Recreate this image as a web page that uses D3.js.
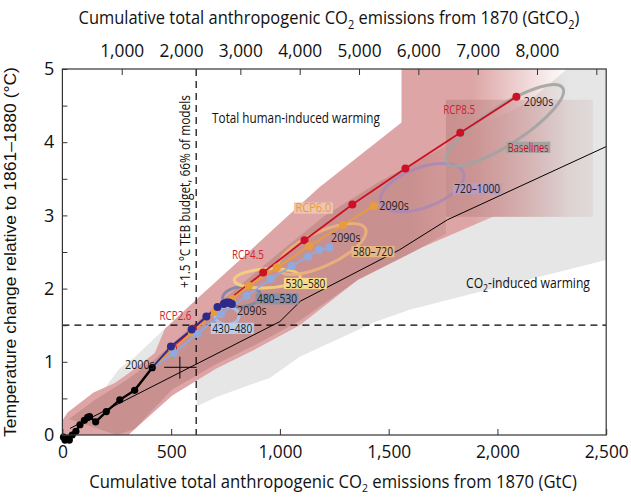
<!DOCTYPE html>
<html><head><meta charset="utf-8">
<script src="https://cdn.jsdelivr.net/npm/d3@7"></script>
<style>
html,body{margin:0;padding:0;background:#fff;}
svg{display:block;font-family:"Open Sans","Noto Sans",sans-serif;}
</style></head>
<body><svg id="c" width="631" height="497"></svg>
<script>
// ---------------- data ----------------
const xTicksGtC = [0,500,1000,1500,2000,2500];
const xLabelsGtCO2 = [1000,2000,3000,4000,5000,6000,7000,8000];
const xTickMarksGtCO2 = [1000,3000,4000,5000,6000,7000,8000,9000];
const yTicks = [0,0.5,1,1.5,2,2.5,3,3.5,4,4.5,5];
const budget15 = 615;          // GtC, +1.5 °C TEB budget
const level15 = 1.5;           // °C

// CO2-induced warming range (grey)
const co2RangeUpper = [[0,0],[100,0.4],[200,0.66],[260,0.9],[330,1.06],[402,1.26],[470,1.45],[600,1.75],[1000,2.7],[1500,3.6],[2136,4.54],[2320,5.0],[2500,5.0]];
const co2RangeLower = [[2500,2.39],[1856,1.91],[1596,1.71],[1443,1.55],[1091,1.07],[953,0.78],[708,0.52],[617,0.39],[617,0.8],[505,0.6],[303,0.05],[290,0]];
// Total human-induced warming range (pink)
const totRangeUpper = [[0,0.2],[25,0.31],[143,0.58],[241,0.71],[303,0.84],[425,1.12],[471,1.45],[623,1.87],[775,2.28],[977,2.83],[1180,3.38],[1559,4.27],[1559,5.0],[2500,5.0]];
const totRangeLower = [[2500,2.98],[1979,2.98],[1652,2.56],[1359,2.12],[1091,1.5],[893,1.18],[708,0.91],[505,0.54],[303,0],[0,0]];
const totInnerUpper = [[30,0.22],[150,0.48],[300,0.76],[420,1.02],[600,1.5],[800,2.0],[1000,2.5],[1200,2.98],[1450,3.45],[1763,3.95]];
const totInnerLower = [[1763,2.75],[1652,2.56],[1359,2.12],[1091,1.56],[893,1.24],[708,0.97],[505,0.62],[330,0.08],[250,0]];
// baseline range box
const baseBox = {x0:1763, x1:2439, y0:2.98, y1:4.58};

// central CO2-only line
const co2Line = [[35,0.09],[1000,1.55],[1095,1.83],[1550,2.53],[1770,2.94],[2500,3.94]];

// historical decades (GtC, °C)
const hist = [[5,-0.03],[12,-0.07],[22,-0.05],[32,-0.07],[45,0.0],[62,0.05],[81,0.14],[101,0.2],[116,0.24],[125,0.25],[153,0.18],[202,0.32],[264,0.48],[332,0.61],[413,0.92]];
// RCP decades 2000s..2090s
const rcp85 = [[413,0.92],[508,1.19],[600,1.45],[745,1.8],[923,2.22],[1113,2.66],[1333,3.15],[1577,3.64],[1829,4.13],[2087,4.62]];
const rcp60 = [[413,0.92],[505,1.17],[595,1.4],[700,1.68],[780,1.86],[857,2.04],[987,2.29],[1134,2.58],[1290,2.87],[1431,3.13]];
const rcp45 = [[413,0.92],[513,1.12],[619,1.38],[729,1.65],[847,1.9],[957,2.13],[1054,2.31],[1130,2.44],[1181,2.53],[1228,2.56]];
const rcp26 = [[413,0.92],[499,1.21],[594,1.44],[662,1.62],[713,1.75],[742,1.79],[755,1.81],[765,1.81],[772,1.8],[779,1.79]];

// observational estimate cross
const obs = {x:540, y:0.925, x0:468, x1:617, y0:0.77, y1:1.07};

// concentration-category ellipses (centre GtC/°C, semi-axes GtC/°C, tilt deg)
const ellLabels = ["430–480","480–530","530–580","580–720","720–1000","Baselines"];
const ellCx = [757,824,942,1193,1654,2034];
const ellCy = [1.63,1.89,2.14,2.54,3.38,4.23];
const ellRx = [55,87,152,221,202,317];
const ellRy = [0.123,0.137,0.13,0.232,0.273,0.26];
const ellRot = [0,-5,-3,-25,-20,-33];
const ellLabelPos = [[781,1.457],[987,1.86],[1117,2.07],[1428,2.505],[1907,3.365],[2142,3.93]];

const rcpNames = ["RCP8.5","RCP6.0","RCP4.5","RCP2.6"];
const rcpLabelPos = [[1824,4.44],[1154,3.10],[853,2.47],[520,1.63]];
const decadeLabels = [["2090s",2189,4.55],["2090s",1525,3.135],["2090s",1303,2.69],["2090s",871,1.70],["2000s",356,0.96]];

// ---------------- drawing ----------------
const svg = d3.select("#c");
const L=62.4, R=606.2, T=69, B=435;
const x = d3.scaleLinear().domain([0,2500]).range([L,R]);
const y = d3.scaleLinear().domain([0,5]).range([B,T]);
const xTop = d3.scaleLinear().domain([0,2500*44/12]).range([L,R]);
const line = d3.line().x(d=>x(d[0])).y(d=>y(d[1]));

// squeeze a text horizontally to a target width around its anchor
function fit(sel, width){
  const n = sel.node();
  const w = n.getComputedTextLength();
  const ax0 = +sel.attr("x"), ay0 = +sel.attr("y");
  const k = width / w;
  sel.attr("transform", `translate(${ax0},${ay0}) scale(${k},1) translate(${-ax0},${-ay0})`);
  return sel;
}

const defs = svg.append("defs");
defs.append("clipPath").attr("id","clip").append("rect").attr("x",L).attr("y",T).attr("width",R-L).attr("height",B-T);
const g1 = defs.append("linearGradient").attr("id","gBand").attr("gradientUnits","userSpaceOnUse")
  .attr("x1",x(1880)).attr("x2",x(2330)).attr("y1",0).attr("y2",0);
g1.append("stop").attr("offset",0).attr("stop-color","#dda5a5").attr("stop-opacity",1);
g1.append("stop").attr("offset",1).attr("stop-color","#dda5a5").attr("stop-opacity",0);
const g2 = defs.append("linearGradient").attr("id","gBox").attr("gradientUnits","userSpaceOnUse")
  .attr("x1",x(baseBox.x0)).attr("x2",x(baseBox.x1)).attr("y1",0).attr("y2",0);
g2.append("stop").attr("offset",0).attr("stop-color","#b97f7f").attr("stop-opacity",0.55);
g2.append("stop").attr("offset",1).attr("stop-color","#b97f7f").attr("stop-opacity",0.12);
const g3 = defs.append("linearGradient").attr("id","gInner").attr("gradientUnits","userSpaceOnUse")
  .attr("x1",x(1600)).attr("x2",x(2000)).attr("y1",0).attr("y2",0);
g3.append("stop").attr("offset",0).attr("stop-color","#bd8282").attr("stop-opacity",0.6);
g3.append("stop").attr("offset",1).attr("stop-color","#bd8282").attr("stop-opacity",0.0);

const plot = svg.append("g").attr("clip-path","url(#clip)");
plot.append("path").attr("d", line(co2RangeUpper.concat(co2RangeLower))+"Z").attr("fill","#e6e6e6");
plot.append("path").attr("d", line(totRangeUpper.concat(totRangeLower))+"Z").attr("fill","url(#gBand)");
plot.append("path").attr("d", line(totInnerUpper.concat(totInnerLower))+"Z").attr("fill","url(#gInner)");
plot.append("rect").attr("x",x(baseBox.x0)).attr("y",y(baseBox.y1))
  .attr("width",x(baseBox.x1)-x(baseBox.x0)).attr("height",y(baseBox.y0)-y(baseBox.y1)).attr("fill","url(#gBox)");

// CO2-only central line
plot.append("path").attr("d",line(co2Line)).attr("fill","none").attr("stroke","#000").attr("stroke-width",1);

// dashed reference lines
plot.append("line").attr("x1",x(budget15)).attr("x2",x(budget15)).attr("y1",T).attr("y2",B)
  .attr("stroke","#000").attr("stroke-width",1.2).attr("stroke-dasharray","7,5");
plot.append("line").attr("x1",L).attr("x2",R).attr("y1",y(level15)).attr("y2",y(level15))
  .attr("stroke","#000").attr("stroke-width",1.2).attr("stroke-dasharray","7,5");

// ellipses
const ellStroke = ["#a9c2ea","#7c86a6","#f6d37a","#ecb27a","#a88ab6","#a3a3a3"];
const ellBg = ["#b9cdec","#8a91aa","#f7da8c","#e9b784","#b89cc2","#a3a3a3"];
ellLabels.forEach((lab,i)=>{
  const cx=x(ellCx[i]), cy=y(ellCy[i]);
  plot.append("ellipse").attr("cx",cx).attr("cy",cy)
    .attr("rx",x(ellCx[i]+ellRx[i])-cx).attr("ry",cy-y(ellCy[i]+ellRy[i]))
    .attr("transform",`rotate(${ellRot[i]},${cx},${cy})`)
    .attr("fill","none").attr("stroke",ellStroke[i]).attr("stroke-width",3).attr("stroke-opacity",0.9);
});

// RCP lines
const series = [rcp85,rcp60,rcp45,rcp26];
const sCol = ["#cc1126","#e79d3e","#8eaade","#2c2a8c"];
series.forEach((s,i)=>{
  plot.append("path").attr("d",line(s)).attr("fill","none").attr("stroke",sCol[i]).attr("stroke-width",1.8);
});
series.forEach((s,i)=>{
  plot.selectAll(null).data(s.slice(1)).enter().append("circle")
    .attr("cx",d=>x(d[0])).attr("cy",d=>y(d[1])).attr("r",4).attr("fill",sCol[i]);
});
// historical
plot.append("path").attr("d",line(hist)).attr("fill","none").attr("stroke","#000").attr("stroke-width",2.4);
svg.append("g").selectAll("circle").data(hist).enter().append("circle")
  .attr("cx",d=>x(d[0])).attr("cy",d=>y(d[1])).attr("r",3.6).attr("fill","#000");

// obs cross
plot.append("line").attr("x1",x(obs.x0)).attr("x2",x(obs.x1)).attr("y1",y(obs.y)).attr("y2",y(obs.y)).attr("stroke","#000").attr("stroke-width",1);
plot.append("line").attr("x1",x(obs.x)).attr("x2",x(obs.x)).attr("y1",y(obs.y0)).attr("y2",y(obs.y1)).attr("stroke","#000").attr("stroke-width",1);

// ---- labels with boxes
function boxLabel(txt,gx,gt,bg,fg,size,len){
  const gg = svg.append("g");
  const t = gg.append("text").attr("x",x(gx)).attr("y",y(gt)).attr("dy","0.36em")
    .attr("text-anchor","middle").attr("font-size",size).attr("fill",fg).text(txt);
  fit(t,len);
  gg.insert("rect","text").attr("x",x(gx)-len/2-1.5).attr("y",y(gt)-5.6).attr("width",len+3).attr("height",11.2).attr("fill",bg);
  return t;
}
const ellLabLen = [40,40,40,40,46,41];
ellLabels.forEach((lab,i)=>{
  boxLabel(lab, ellLabelPos[i][0], ellLabelPos[i][1], ellBg[i], i===5?"#cc1126":"#222", 12, ellLabLen[i]);
});
rcpNames.forEach((n,i)=>{
  if(n==="RCP6.0") boxLabel(n, rcpLabelPos[i][0], rcpLabelPos[i][1], "#efc4b0", "#e79d3e", 12, 36);
  else fit(svg.append("text").attr("x",x(rcpLabelPos[i][0])).attr("y",y(rcpLabelPos[i][1])).attr("dy","0.36em")
    .attr("text-anchor","middle").attr("font-size",12).attr("fill","#d2202e").text(n), 32);
});
decadeLabels.forEach(d=>{
  fit(svg.append("text").attr("x",x(d[1])).attr("y",y(d[2])).attr("dy","0.36em").attr("text-anchor","middle")
    .attr("font-size",12).attr("fill","#222").text(d[0]), 29.5);
});

// big annotations
fit(svg.append("text").attr("x",296).attr("y",123).attr("text-anchor","middle").attr("font-size",14)
  .attr("fill","#111").text("Total human-induced warming"), 168);
const co2t = svg.append("text").attr("x",528).attr("y",288).attr("text-anchor","middle").attr("font-size",14).attr("fill","#111");
co2t.append("tspan").text("CO");
co2t.append("tspan").attr("font-size",10).attr("dy",4).text("2");
co2t.append("tspan").attr("dy",-4).text("-induced warming");
fit(co2t,124);
const vg = svg.append("g").attr("transform",`translate(${x(budget15)-6},191.5) rotate(-90)`);
fit(vg.append("text").attr("x",0).attr("y",0).attr("text-anchor","middle").attr("font-size",14)
  .attr("fill","#111").text("+1.5 °C TEB budget, 66% of models"), 193);

// ---------------- axes ----------------
const fmt = d3.format(",");
const ax = svg.append("g").attr("transform",`translate(0,${B})`)
  .call(d3.axisBottom(x).tickValues(xTicksGtC).tickSize(-6).tickPadding(10).tickFormat(fmt));
const axT = svg.append("g").attr("transform",`translate(0,${T})`)
  .call(d3.axisTop(xTop).tickValues(xLabelsGtCO2).tickSize(0).tickPadding(12).tickFormat(fmt));
const axTm = svg.append("g").attr("transform",`translate(0,${T})`)
  .call(d3.axisTop(xTop).tickValues(xTickMarksGtCO2).tickSize(-6).tickFormat(""));
const ay = svg.append("g").attr("transform",`translate(${L},0)`)
  .call(d3.axisLeft(y).tickValues(yTicks).tickSize(-5).tickPadding(8).tickFormat(d=>Number.isInteger(d)?d:""));
[ax,axT,axTm,ay].forEach(a=>{
  a.select(".domain").remove();
  a.selectAll("line").attr("stroke","#333");
  a.selectAll("text").attr("font-size",18).attr("fill","#111").attr("font-family",'"Open Sans",sans-serif');
});
ax.selectAll("text").attr("textLength",d=>d>=1000?44:(d>0?30:10)).attr("lengthAdjust","spacingAndGlyphs");
axT.selectAll("text").attr("textLength",44).attr("lengthAdjust","spacingAndGlyphs");
svg.append("rect").attr("x",L).attr("y",T).attr("width",R-L).attr("height",B-T).attr("fill","none").attr("stroke","#333").attr("stroke-width",1.2);

// axis titles
const tb = svg.append("text").attr("x",333).attr("y",488).attr("text-anchor","middle").attr("font-size",17.5).attr("fill","#111");
tb.append("tspan").text("Cumulative total anthropogenic CO");
tb.append("tspan").attr("font-size",11).attr("dy",4).text("2");
tb.append("tspan").attr("dy",-4).text(" emissions from 1870 (GtC)");
fit(tb,488);
const tt = svg.append("text").attr("x",329).attr("y",24).attr("text-anchor","middle").attr("font-size",18).attr("fill","#111");
tt.append("tspan").text("Cumulative total anthropogenic CO");
tt.append("tspan").attr("font-size",12).attr("dy",5).text("2");
tt.append("tspan").attr("dy",-5).text(" emissions from 1870 (GtCO");
tt.append("tspan").attr("font-size",12).attr("dy",5).text("2");
tt.append("tspan").attr("dy",-5).text(")");
fit(tt,501);
const yg = svg.append("g").attr("transform","translate(16,252) rotate(-90)");
fit(yg.append("text").attr("x",0).attr("y",0).attr("text-anchor","middle").attr("font-size",17)
  .attr("font-family",'"Liberation Sans",Arial,sans-serif')
  .attr("fill","#111").text("Temperature change relative to 1861–1880 (°C)"), 370);
</script></body></html>
